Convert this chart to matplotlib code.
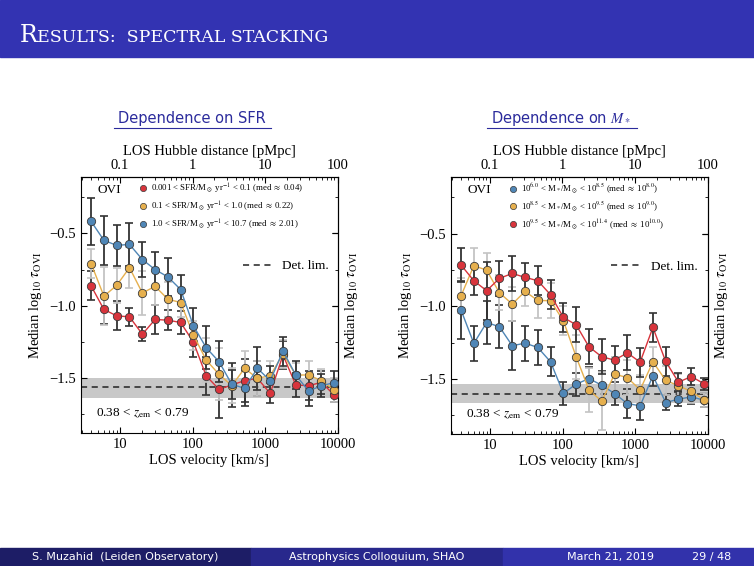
import matplotlib.pyplot as plt
from matplotlib.lines import Line2D
from matplotlib.patches import Rectangle
from matplotlib.ticker import MultipleLocator, FixedLocator, LogLocator, NullFormatter

plt.rcParams['font.family'] = ['Liberation Serif', 'DejaVu Serif']
plt.rcParams['mathtext.fontset'] = 'stix'

# bin centres of the LOS velocity (km/s)
velocity = [4.0, 6.0, 9.0, 13.5, 20.3, 30.4, 45.6, 68.3, 102.5, 153.8,
            230.7, 346.0, 519.0, 778.0, 1168.0, 1752.0, 2627.0, 3941.0, 5912.0, 8868.0]

# left panel: SFR bins
sfr_low = [-0.863, -1.026, -1.070, -1.077, -1.197, -1.095, -1.100, -1.116, -1.252, -1.486,
           -1.578, -1.548, -1.518, -1.502, -1.606, -1.341, -1.548, -1.553, -1.530, -1.617]
sfr_low_err = [0.10, 0.10, 0.10, 0.06, 0.05, 0.10, 0.07, 0.08, 0.10, 0.13,
               0.20, 0.15, 0.15, 0.12, 0.07, 0.10, 0.08, 0.10, 0.08, 0.05]
sfr_mid = [-0.709, -0.934, -0.859, -0.737, -0.912, -0.866, -0.955, -0.978, -1.203, -1.376,
           -1.475, -1.553, -1.433, -1.502, -1.484, -1.334, -1.479, -1.479, -1.518, -1.583]
sfr_mid_err = [0.10, 0.20, 0.12, 0.14, 0.15, 0.13, 0.12, 0.10, 0.10, 0.15,
               0.18, 0.12, 0.12, 0.12, 0.10, 0.10, 0.08, 0.10, 0.08, 0.08]
sfr_high = [-0.417, -0.548, -0.583, -0.576, -0.681, -0.750, -0.801, -0.888, -1.139, -1.291,
            -1.387, -1.544, -1.571, -1.433, -1.518, -1.314, -1.479, -1.590, -1.553, -1.532]
sfr_high_err = [0.16, 0.17, 0.14, 0.15, 0.12, 0.12, 0.13, 0.10, 0.12, 0.15,
                0.14, 0.10, 0.12, 0.15, 0.10, 0.10, 0.10, 0.10, 0.08, 0.08]

# right panel: stellar mass bins
mass_low = [-1.026, -1.256, -1.112, -1.141, -1.272, -1.254, -1.284, -1.383, -1.599, -1.537,
            -1.498, -1.544, -1.601, -1.670, -1.686, -1.479, -1.663, -1.640, -1.624, -1.647]
mass_low_err = [0.20, 0.12, 0.15, 0.15, 0.17, 0.12, 0.12, 0.10, 0.08, 0.08,
                0.08, 0.10, 0.08, 0.10, 0.10, 0.07, 0.05, 0.05, 0.05, 0.05]
mass_mid = [-0.928, -0.721, -0.751, -0.907, -0.985, -0.898, -0.960, -0.962, -1.100, -1.348,
            -1.576, -1.654, -1.468, -1.491, -1.576, -1.383, -1.510, -1.548, -1.587, -1.645]
mass_mid_err = [0.12, 0.12, 0.12, 0.12, 0.12, 0.10, 0.12, 0.12, 0.10, 0.15,
                0.15, 0.20, 0.12, 0.12, 0.10, 0.10, 0.10, 0.08, 0.08, 0.05]
mass_high = [-0.716, -0.824, -0.893, -0.808, -0.774, -0.801, -0.824, -0.921, -1.077, -1.128,
             -1.279, -1.348, -1.371, -1.321, -1.385, -1.146, -1.380, -1.523, -1.484, -1.534]
mass_high_err = [0.12, 0.10, 0.20, 0.12, 0.12, 0.10, 0.10, 0.10, 0.10, 0.12,
                 0.12, 0.12, 0.10, 0.12, 0.10, 0.10, 0.10, 0.06, 0.06, 0.04]

# detection limit (line, band low, band high)
det_left = (-1.564, -1.636, -1.502)
det_right = (-1.606, -1.668, -1.537)

sfr_labels = [r'0.001 < SFR/M$_\odot$ yr$^{-1}$ < 0.1 (med $\approx$ 0.04)',
              r'0.1 < SFR/M$_\odot$ yr$^{-1}$ < 1.0 (med $\approx$ 0.22)',
              r'1.0 < SFR/M$_\odot$ yr$^{-1}$ < 10.7 (med $\approx$ 2.01)']
mass_labels = [r'10$^{6.0}$ < M$_*$/M$_\odot$ < 10$^{8.5}$ (med $\approx$ 10$^{8.0}$)',
               r'10$^{8.5}$ < M$_*$/M$_\odot$ < 10$^{9.5}$ (med $\approx$ 10$^{9.0}$)',
               r'10$^{9.5}$ < M$_*$/M$_\odot$ < 10$^{11.4}$ (med $\approx$ 10$^{10.0}$)']

RED = '#d8343c'
ORANGE = '#e6b04e'
BLUE = '#4f86b6'
HUBBLE = 99.5  # km/s per pMpc at the median redshift

fig = plt.figure(figsize=(7.54, 5.66), dpi=100)

# slide header and footer
fig.patches.append(Rectangle((0, 0.899), 1, 0.101, transform=fig.transFigure, color='#3333b2'))
fig.patches.append(Rectangle((0, 0), 0.333, 0.032, transform=fig.transFigure, color='#1d1d66'))
fig.patches.append(Rectangle((0.333, 0), 0.334, 0.032, transform=fig.transFigure, color='#28288c'))
fig.patches.append(Rectangle((0.667, 0), 0.333, 0.032, transform=fig.transFigure, color='#3232ab'))
fig.text(0.026, 0.925, 'R', color='white', fontsize=17, family='DejaVu Serif')
fig.text(0.049, 0.925, 'ESULTS:  SPECTRAL STACKING', color='white', fontsize=12.5,
         family='DejaVu Serif')
foot = dict(color='white', fontsize=8, family='DejaVu Sans', va='center')
fig.text(0.166, 0.016, 'S. Muzahid  (Leiden Observatory)', ha='center', **foot)
fig.text(0.50, 0.016, 'Astrophysics Colloquium, SHAO', ha='center', **foot)
fig.text(0.752, 0.016, 'March 21, 2019', ha='left', **foot)
fig.text(0.918, 0.016, '29 / 48', ha='left', **foot)


def draw_panel(rect, series, labels, det, title, title_x, line_x):
    ax = fig.add_axes(rect)
    for y, err, color, ecol in series:
        ax.errorbar(velocity, y, yerr=err, fmt='none', ecolor=ecol, elinewidth=1.3,
                    capsize=3, capthick=1.2, zorder=2)
    for y, err, color, ecol in series:
        ax.plot(velocity, y, '-o', color=color, lw=1.0, ms=6, mfc=color,
                mec='#3a3a3a', mew=0.6, zorder=3)
    ax.axhspan(det[1], det[2], color='#c8c8c8', lw=0, zorder=1)
    det_line = ax.axhline(det[0], color='#222222', ls=(0, (4, 3)), lw=1.1, zorder=1.5)

    ax.set_xscale('log')
    ax.set_xlim(2.9, 1e4)
    ax.set_ylim(-1.88, -0.11)
    ax.set_xticks([10, 100, 1000, 10000], labels=['10', '100', '1000', '10000'])
    ax.yaxis.set_major_locator(FixedLocator([-0.5, -1.0, -1.5]))
    ax.yaxis.set_minor_locator(MultipleLocator(0.25))
    ax.tick_params(which='both', direction='in', labelsize=10.5, top=False, right=True)
    ax.tick_params(which='major', length=4)
    ax.tick_params(which='minor', length=2)
    ax.set_xlabel('LOS velocity [km/s]', fontsize=10.5, labelpad=2)
    ax.set_ylabel(r'Median log$_{10}$ $\tau_{\rm OVI}$', fontsize=10.5)

    top = ax.secondary_xaxis('top', functions=(lambda v: v / HUBBLE, lambda d: d * HUBBLE))
    top.set_xticks([0.1, 1, 10, 100], labels=['0.1', '1', '10', '100'])
    top.xaxis.set_minor_locator(LogLocator(subs=range(2, 10)))
    top.xaxis.set_minor_formatter(NullFormatter())
    top.tick_params(which='both', direction='in', labelsize=10.5)
    top.tick_params(which='major', length=4)
    top.tick_params(which='minor', length=2)
    top.set_xlabel('LOS Hubble distance [pMpc]', fontsize=10.5, labelpad=3)

    side = ax.secondary_yaxis('right')
    side.yaxis.set_major_locator(FixedLocator([-0.5, -1.0, -1.5]))
    side.tick_params(which='both', direction='in', labelright=False, length=4)
    side.set_ylabel(r'Median log$_{10}$ $\tau_{\rm OVI}$', fontsize=10.5, labelpad=4)

    handles = [Line2D([], [], ls='none', marker='o', ms=4.5, mfc=c, mec='#3a3a3a', mew=0.5)
               for _, _, c, _ in series]
    leg = ax.legend(handles, labels, loc='upper left',
                    bbox_to_anchor=(0.224, 0.982), frameon=False, fontsize=6.3,
                    handlelength=1.0, handletextpad=0.4, labelspacing=0.45,
                    borderpad=0, borderaxespad=0)
    ax.add_artist(leg)
    ax.legend([det_line], ['Det. lim.'], loc='upper left', bbox_to_anchor=(line_x, 0.675),
              frameon=False, fontsize=9.5, handlelength=2.2, handletextpad=0.8,
              borderpad=0, borderaxespad=0)
    ax.text(0.11, 0.949, 'OVI', transform=ax.transAxes, fontsize=9.5, ha='center', va='center')
    ax.text(0.06, 0.077, r'0.38 < $z_{\rm em}$ < 0.79', transform=ax.transAxes,
            fontsize=9.5, ha='left', va='center')

    fig.text(title_x, 0.791, title, fontsize=10.5, family='DejaVu Sans', color='#2b2b9c',
             ha='center', va='center')
    return ax


left = draw_panel([0.1074, 0.235, 0.3408, 0.4523],
                  [(sfr_low, sfr_low_err, RED, '#333333'),
                   (sfr_mid, sfr_mid_err, ORANGE, '#c4c4c4'),
                   (sfr_high, sfr_high_err, BLUE, '#333333')],
                  sfr_labels, det_left, 'Dependence on SFR', 0.254, 0.63)
right = draw_panel([0.598, 0.2332, 0.3408, 0.454],
                   [(mass_low, mass_low_err, BLUE, '#333333'),
                    (mass_mid, mass_mid_err, ORANGE, '#c4c4c4'),
                    (mass_high, mass_high_err, RED, '#333333')],
                   mass_labels, det_right, r'Dependence on $M_*$', 0.744, 0.625)

# underlines of the panel titles
fig.add_artist(Line2D([0.151, 0.359], [0.773, 0.773], color='#2b2b9c', lw=0.8))
fig.add_artist(Line2D([0.646, 0.845], [0.773, 0.773], color='#2b2b9c', lw=0.8))

fig.savefig('out.png', dpi=100)
